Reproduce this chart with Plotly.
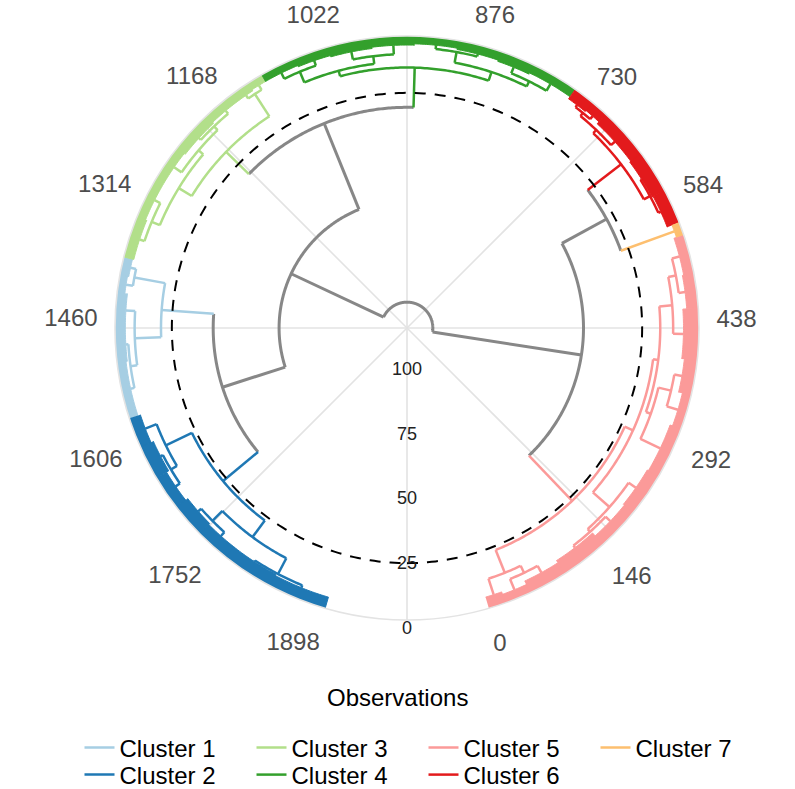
import numpy as np
import plotly.graph_objects as go

# ---------------------------------------------------------------------------
# Hierarchical clustering of 1898 observations, drawn as a circular dendrogram
# ---------------------------------------------------------------------------
N_OBS = 1898
CUT_HEIGHT = 22.0          # height at which the tree is cut into 7 clusters
R_TOP = 113.0              # radial value at the centre of the circle

# clusters in leaf order around the circle, with their sizes
cluster_ids = [5, 7, 6, 4, 3, 1, 2]
cluster_sizes = [535, 15, 195, 377, 267, 186, 323]
cluster_colors = {
    1: "#A6CEE3", 2: "#1F78B4", 3: "#B2DF8A", 4: "#33A02C",
    5: "#FB9A99", 6: "#E31A1C", 7: "#FDBF6F",
}
GRAY = "#878787"

# internal merge nodes: name, parent, merge height
node_name = [
    "root", "A", "B", "E", "C", "D",
    "c5", "c6", "c4", "c3", "c1", "c2",
    "5L", "5Lb", "5R", "5R1", "5R1a", "5R2", "5R2a", "5R2a2", "5R2b", "5R2b2",
    "6a", "6b", "6b2",
    "4L", "4L1", "4L2", "4R", "4R1", "4R2",
    "3R", "3L", "3L1", "3L1a", "3L2",
    "1a", "1b", "1b2",
    "2a", "2a2", "2b", "2b1", "2b2",
]
node_parent = [
    None, "root", "root", "A", "B", "B",
    "A", "E", "C", "C", "D", "D",
    "c5", "5L", "c5", "5R", "5R1", "5R", "5R2", "5R2a", "5R2", "5R2b",
    "c6", "c6", "6b",
    "c4", "4L", "4L", "c4", "4R", "4R",
    "c3", "c3", "3L", "3L1", "3L",
    "c1", "c1", "1b",
    "c2", "2a", "c2", "2b", "2b",
]
node_height = [
    103.0, 44.7, 63.5, 25.0, 27.6, 38.0,
    20.5, 8.7, 12.2, 15.3, 17.8, 20.4,
    11.0, 8.0, 17.0, 8.4, 7.0, 15.0, 13.0, 8.0, 10.0, 7.0,
    6.0, 7.0, 5.5,
    8.7, 6.5, 4.5, 10.0, 7.0, 5.5,
    5.0, 9.4, 7.0, 5.0, 6.0,
    5.7, 7.6, 5.0,
    9.2, 6.5, 12.4, 7.0, 5.5,
]

# dense bundles of leaves at the bottom of the tree, in leaf order
twig_parent = [
    "5L", "5Lb", "5Lb", "5R1a", "5R1a", "5R1", "5R2a", "5R2a2", "5R2a2",
    "5R2b", "5R2b2", "5R2b2",
    "E",
    "6a", "6a", "6b", "6b2", "6b2",
    "4L1", "4L1", "4L2", "4L2", "4R1", "4R1", "4R2", "4R2",
    "3R", "3R", "3L1a", "3L1a", "3L1", "3L2", "3L2",
    "1a", "1a", "1b", "1b2", "1b2",
    "2a", "2a2", "2a2", "2b1", "2b1", "2b2", "2b2",
]
twig_size = [
    20, 30, 45, 55, 50, 50, 60, 40, 40, 60, 40, 45,
    15,
    40, 50, 60, 20, 25,
    55, 40, 50, 50, 50, 50, 40, 42,
    18, 20, 40, 50, 40, 50, 49,
    21, 20, 40, 40, 65,
    35, 40, 40, 40, 40, 60, 68,
]
twig_height = [
    4.5, 3.5, 5.0, 6.0, 4.5, 5.0, 4.5, 3.5, 5.0, 6.0, 4.5, 4.0,
    3.0,
    5.0, 5.5, 5.0, 4.0, 4.5,
    3.5, 4.0, 3.5, 3.0, 3.5, 4.0, 3.5, 3.0,
    3.0, 3.5, 3.5, 4.0, 3.5, 3.5, 4.0,
    3.5, 3.0, 4.0, 4.0, 3.5,
    4.5, 5.5, 4.5, 5.5, 5.0, 5.0, 4.5,
]

theta_breaks = [0, 146, 292, 438, 584, 730, 876, 1022, 1168, 1314, 1460,
                1606, 1752, 1898]
radial_breaks = [0, 25, 50, 75, 100]
grid_spokes_deg = [0, 45, 90, 135, 180, 225, 270, 315]

# ---------------------------------------------------------------------------
# Dendrogram layout
# ---------------------------------------------------------------------------
x_lo = 1 - 0.05 * (N_OBS - 1)
x_hi = N_OBS + 0.05 * (N_OBS - 1)


def to_deg(x):
    return (np.asarray(x, dtype=float) - x_lo) * 360.0 / (x_hi - x_lo)


twig_start = np.cumsum([0] + twig_size[:-1]) + 1
twig_end = twig_start + np.array(twig_size) - 1
twig_x = (twig_start + twig_end) / 2.0

cluster_bounds = np.cumsum(cluster_sizes)


def cluster_of(leaf):
    return cluster_ids[int(np.searchsorted(cluster_bounds, leaf))]


twig_cluster = [cluster_of(s) for s in twig_start]
height = dict(zip(node_name, node_height))
children = {n: [] for n in node_name}
for n, p in zip(node_name, node_parent):
    if p is not None:
        children[p].append(("node", n))
for i, p in enumerate(twig_parent):
    children[p].append(("twig", i))

pos, span, members = {}, {}, {}


def place(n):
    xs, cs = [], set()
    for kind, c in children[n]:
        if kind == "twig":
            xs.append(twig_x[c])
            cs.add(twig_cluster[c])
        else:
            place(c)
            xs.append(pos[c])
            cs |= members[c]
    span[n] = (min(xs), max(xs))
    pos[n] = (min(xs) + max(xs)) / 2.0
    members[n] = cs


place("root")


def color_key(n):
    if len(members[n]) == 1 and height[n] < CUT_HEIGHT:
        return next(iter(members[n]))
    return "gray"


lines = {k: ([], []) for k in ["gray"] + list(cluster_colors)}
fills = {k: ([], []) for k in cluster_colors}


def arc(x1, x2, h):
    t1, t2 = float(to_deg(x1)), float(to_deg(x2))
    n = max(2, int(abs(t2 - t1) / 0.5) + 2)
    th = np.linspace(t1, t2, n)
    return [h] * n, list(th)


def add(store, key, r, th):
    store[key][0].extend(list(r) + [None])
    store[key][1].extend([float(t) for t in th] + [None])


for n, p in zip(node_name, node_parent):
    key = color_key(n)
    r, th = arc(span[n][0], span[n][1], height[n])
    add(lines, key, r, th)
    if p is not None:
        t = float(to_deg(pos[n]))
        add(lines, key, [height[n], height[p]], [t, t])

for i, p in enumerate(twig_parent):
    key = twig_cluster[i]
    t = float(to_deg(twig_x[i]))
    add(lines, key, [twig_height[i], height[p]], [t, t])
    r1, th1 = arc(twig_start[i] - 0.5, twig_end[i] + 0.5, twig_height[i])
    r0, th0 = arc(twig_end[i] + 0.5, twig_start[i] - 0.5, 0.0)
    add(fills, key, r1 + r0, th1 + th0)

# ---------------------------------------------------------------------------
# Figure
# ---------------------------------------------------------------------------
fig = go.Figure()

spoke_r, spoke_t = [], []
for a in grid_spokes_deg:
    spoke_r += [R_TOP, 0, None]
    spoke_t += [a, a, None]
fig.add_trace(go.Scatterpolar(r=spoke_r, theta=spoke_t, mode="lines",
                              line=dict(color="#E3E3E3", width=1.6),
                              hoverinfo="skip", showlegend=False))

for k in cluster_colors:
    r, th = fills[k]
    fig.add_trace(go.Scatterpolar(r=r, theta=th, mode="lines", fill="toself",
                                  fillcolor=cluster_colors[k],
                                  line=dict(color=cluster_colors[k], width=1),
                                  hoverinfo="skip", showlegend=False))

r, th = lines["gray"]
fig.add_trace(go.Scatterpolar(r=r, theta=th, mode="lines",
                              line=dict(color=GRAY, width=3),
                              hoverinfo="skip", showlegend=False))

# first legend row holds clusters 1, 3, 5, 7; second row 2, 4, 6
legend_rows = {1: "legend", 3: "legend", 5: "legend", 7: "legend",
               2: "legend2", 4: "legend2", 6: "legend2"}
for k in [1, 3, 5, 7, 2, 4, 6]:
    r, th = lines[k]
    fig.add_trace(go.Scatterpolar(r=r, theta=th, mode="lines",
                                  name=f"Cluster {k}", legend=legend_rows[k],
                                  line=dict(color=cluster_colors[k], width=2.5),
                                  hoverinfo="skip"))

cut_t = np.linspace(0, 360, 361)
fig.add_trace(go.Scatterpolar(r=[CUT_HEIGHT] * len(cut_t), theta=list(cut_t),
                              mode="lines",
                              line=dict(color="black", width=2, dash="11px,9px"),
                              hoverinfo="skip", showlegend=False))

fig.add_trace(go.Scatterpolar(r=radial_breaks, theta=[0] * len(radial_breaks),
                              mode="text", text=[str(v) for v in radial_breaks],
                              textposition="bottom center", cliponaxis=False,
                              textfont=dict(size=18, color="#222222"),
                              hoverinfo="skip", showlegend=False))

W, H = 795, 789
CX, CY, RAD = 407, 328, 292
legend_style = dict(orientation="h", xanchor="left", x=0.1, yanchor="middle",
                    font=dict(size=24, color="black"), entrywidth=127,
                    bgcolor="rgba(0,0,0,0)")
fig.update_layout(
    width=W, height=H,
    margin=dict(l=0, r=0, t=0, b=0, autoexpand=False),
    paper_bgcolor="white",
    font=dict(family="Liberation Sans, Arial, sans-serif", color="black"),
    polar=dict(
        domain=dict(x=[(CX - RAD) / W, (CX + RAD) / W],
                    y=[(H - CY - RAD) / H, (H - CY + RAD) / H]),
        bgcolor="white",
        radialaxis=dict(range=[R_TOP, 0], showgrid=False, showline=False,
                        showticklabels=False, ticks=""),
        angularaxis=dict(rotation=270, direction="counterclockwise",
                         tickmode="array",
                         tickvals=[float(v) for v in to_deg(theta_breaks)],
                         ticktext=[str(v) for v in theta_breaks],
                         showgrid=False, showline=True, linecolor="#E3E3E3",
                         linewidth=1.6, ticks="outside", ticklen=12,
                         tickcolor="rgba(0,0,0,0)",
                         tickfont=dict(size=24, color="#4D4D4D")),
    ),
    legend=dict(y=1 - 748 / H, **legend_style),
    legend2=dict(y=1 - 775 / H, **legend_style),
    annotations=[dict(text="Observations", x=0.5, y=1 - 697 / H, xref="paper",
                      yref="paper", showarrow=False, xanchor="center",
                      yanchor="middle", font=dict(size=24, color="black"))],
)

fig.write_html("out.html")
